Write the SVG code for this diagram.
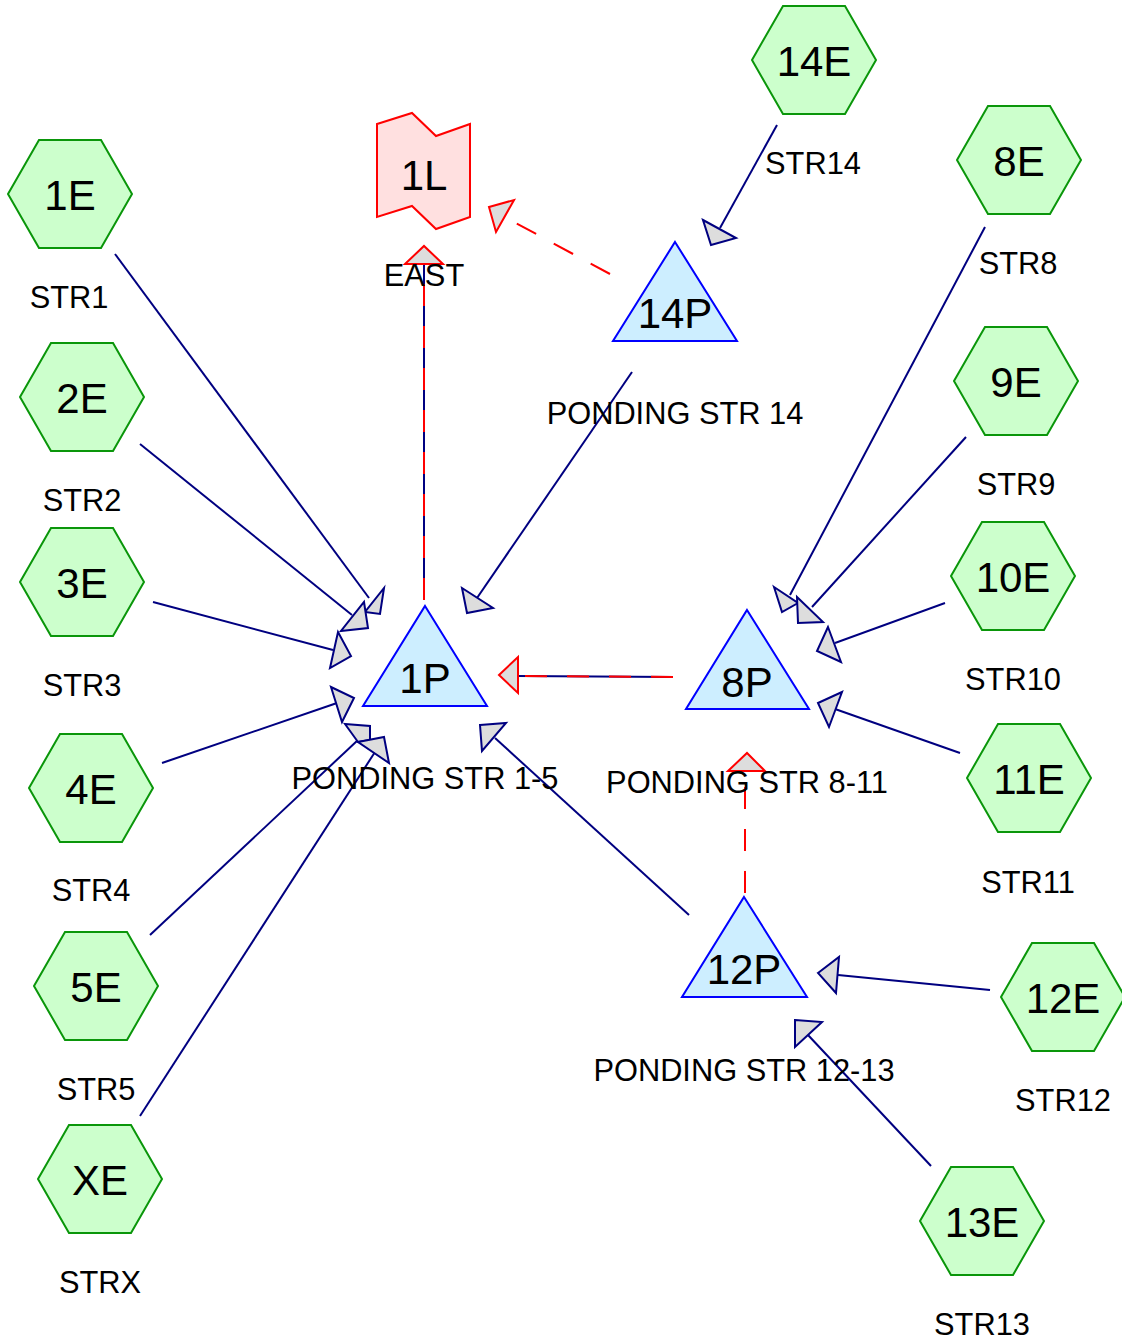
<svg xmlns="http://www.w3.org/2000/svg" width="1122" height="1342" viewBox="0 0 1122 1342">
<defs>
<style>
.hex{fill:#ccffcc;stroke:#0a960a;stroke-width:2}
.tri{fill:#cdeeff;stroke:#0000ff;stroke-width:2}
.lnk{fill:none;stroke:#000080;stroke-width:2}
.dash{fill:none;stroke:#ff0000;stroke-width:2;stroke-dasharray:22,20}
.ah{fill:#dddddd;stroke:#000080;stroke-width:2;stroke-linejoin:miter}
.ahr{fill:#dddddd;stroke:#ff0000;stroke-width:2}
.big{font-family:"Liberation Sans",Arial,sans-serif;font-size:42px;text-anchor:middle;fill:#000}
.lab{font-family:"Liberation Sans",Arial,sans-serif;font-size:30.8px;text-anchor:middle;fill:#000}
</style>
<polygon id="hx" points="-62,0 -31,-54 31,-54 62,0 31,54 -31,54"/>
</defs>
<g id="connectors">
<line class="lnk" x1="115" y1="254" x2="369" y2="598"/>
<polygon class="ah" points="384,588 380,614 365,612"/>
<line class="lnk" x1="140" y1="444" x2="352" y2="615"/>
<polygon class="ah" points="364,602 368,628 341,631"/>
<line class="lnk" x1="153" y1="602" x2="333" y2="650"/>
<polygon class="ah" points="338,632 351,656 330,668"/>
<line class="lnk" x1="162" y1="763" x2="337" y2="703"/>
<polygon class="ah" points="331,687 354,698 342,722"/>
<line class="lnk" x1="150" y1="935" x2="358" y2="740"/>
<polygon class="ah" points="345,724 370,726 370,740 358,742"/>
<line class="lnk" x1="140" y1="1116" x2="375" y2="752"/>
<polygon class="ah" points="358,742 384,737 389,763"/>
<line class="lnk" x1="632" y1="372" x2="477" y2="598"/>
<polygon class="ah" points="462,588 493,608 467,613"/>
<line class="lnk" x1="689" y1="915" x2="495" y2="738"/>
<polygon class="ah" points="480,725 506,723 482,751"/>
<line class="lnk" x1="673" y1="677" x2="518" y2="676"/>
<line class="dash" x1="673" y1="677" x2="518" y2="676"/>
<polygon class="ahr" points="499,675 518,657 518,693"/>
<line class="lnk" x1="424" y1="600" x2="424" y2="264"/>
<line class="dash" x1="424" y1="600" x2="424" y2="264"/>
<polygon class="ahr" points="405,264 424,246 443,264"/>
<line class="dash" x1="610" y1="274" x2="514" y2="222"/>
<polygon class="ahr" points="489,207 514,200 496,232"/>
<line class="dash" x1="745" y1="893" x2="745" y2="771"/>
<polygon class="ahr" points="728,771 747,753 765,771"/>
<line class="lnk" x1="777" y1="125" x2="720" y2="228"/>
<polygon class="ah" points="703,220 736,238 711,245"/>
<line class="lnk" x1="985" y1="227" x2="790" y2="595"/>
<polygon class="ah" points="774,587 798,603 782,612"/>
<line class="lnk" x1="966" y1="437" x2="812" y2="607"/>
<polygon class="ah" points="797,597 823,622 798,623"/>
<line class="lnk" x1="945" y1="603" x2="835" y2="643"/>
<polygon class="ah" points="828,627 817,651 841,662"/>
<line class="lnk" x1="960" y1="753" x2="835" y2="709"/>
<polygon class="ah" points="818,703 842,692 829,727"/>
<line class="lnk" x1="990" y1="990" x2="838" y2="975"/>
<polygon class="ah" points="818,973 839,957 836,993"/>
<line class="lnk" x1="931" y1="1166" x2="808" y2="1035"/>
<polygon class="ah" points="795,1020 822,1022 795,1047"/>
</g>
<g id="n1E"><use href="#hx" class="hex" x="70" y="194"/><text class="big" x="70" y="210">1E</text><text class="lab" x="69" y="308">STR1</text></g>
<g id="n2E"><use href="#hx" class="hex" x="82" y="397"/><text class="big" x="82" y="413">2E</text><text class="lab" x="82" y="511">STR2</text></g>
<g id="n3E"><use href="#hx" class="hex" x="82" y="582"/><text class="big" x="82" y="598">3E</text><text class="lab" x="82" y="696">STR3</text></g>
<g id="n4E"><use href="#hx" class="hex" x="91" y="788"/><text class="big" x="91" y="804">4E</text><text class="lab" x="91" y="901">STR4</text></g>
<g id="n5E"><use href="#hx" class="hex" x="96" y="986"/><text class="big" x="96" y="1002">5E</text><text class="lab" x="96" y="1100">STR5</text></g>
<g id="nXE"><use href="#hx" class="hex" x="100" y="1179"/><text class="big" x="100" y="1195">XE</text><text class="lab" x="100" y="1293">STRX</text></g>
<g id="n14E"><use href="#hx" class="hex" x="814" y="60"/><text class="big" x="814" y="76">14E</text><text class="lab" x="813" y="174">STR14</text></g>
<g id="n8E"><use href="#hx" class="hex" x="1019" y="160"/><text class="big" x="1019" y="176">8E</text><text class="lab" x="1018" y="274">STR8</text></g>
<g id="n9E"><use href="#hx" class="hex" x="1016" y="381"/><text class="big" x="1016" y="397">9E</text><text class="lab" x="1016" y="495">STR9</text></g>
<g id="n10E"><use href="#hx" class="hex" x="1013" y="576"/><text class="big" x="1013" y="592">10E</text><text class="lab" x="1013" y="690">STR10</text></g>
<g id="n11E"><use href="#hx" class="hex" x="1029" y="778"/><text class="big" x="1029" y="794">11E</text><text class="lab" x="1028" y="893">STR11</text></g>
<g id="n12E"><use href="#hx" class="hex" x="1063" y="997"/><text class="big" x="1063" y="1013">12E</text><text class="lab" x="1063" y="1111">STR12</text></g>
<g id="n13E"><use href="#hx" class="hex" x="982" y="1221"/><text class="big" x="982" y="1237">13E</text><text class="lab" x="982" y="1335">STR13</text></g>
<g id="n1P"><polygon class="tri" points="425,606 487,706 363,706"/><text class="big" x="425" y="693">1P</text><text class="lab" x="425" y="789">PONDING STR 1-5</text></g>
<g id="n8P"><polygon class="tri" points="747,610 809,709 686,709"/><text class="big" x="747" y="697">8P</text><text class="lab" x="747" y="793">PONDING STR 8-11</text></g>
<g id="n14P"><polygon class="tri" points="675,242 737,341 613,341"/><text class="big" x="675" y="328">14P</text><text class="lab" x="675" y="424">PONDING STR 14</text></g>
<g id="n12P"><polygon class="tri" points="744,897 807,997 682,997"/><text class="big" x="744" y="984">12P</text><text class="lab" x="744" y="1081">PONDING STR 12-13</text></g>
<g id="n1L"><polygon points="377,124 412,113 436,136 470,124 470,217 436,229 412,206 377,217" fill="#ffe0e0" stroke="#ff0000" stroke-width="2"/><text class="big" x="424" y="190">1L</text><text class="lab" x="424" y="286">EAST</text></g>
</svg>
